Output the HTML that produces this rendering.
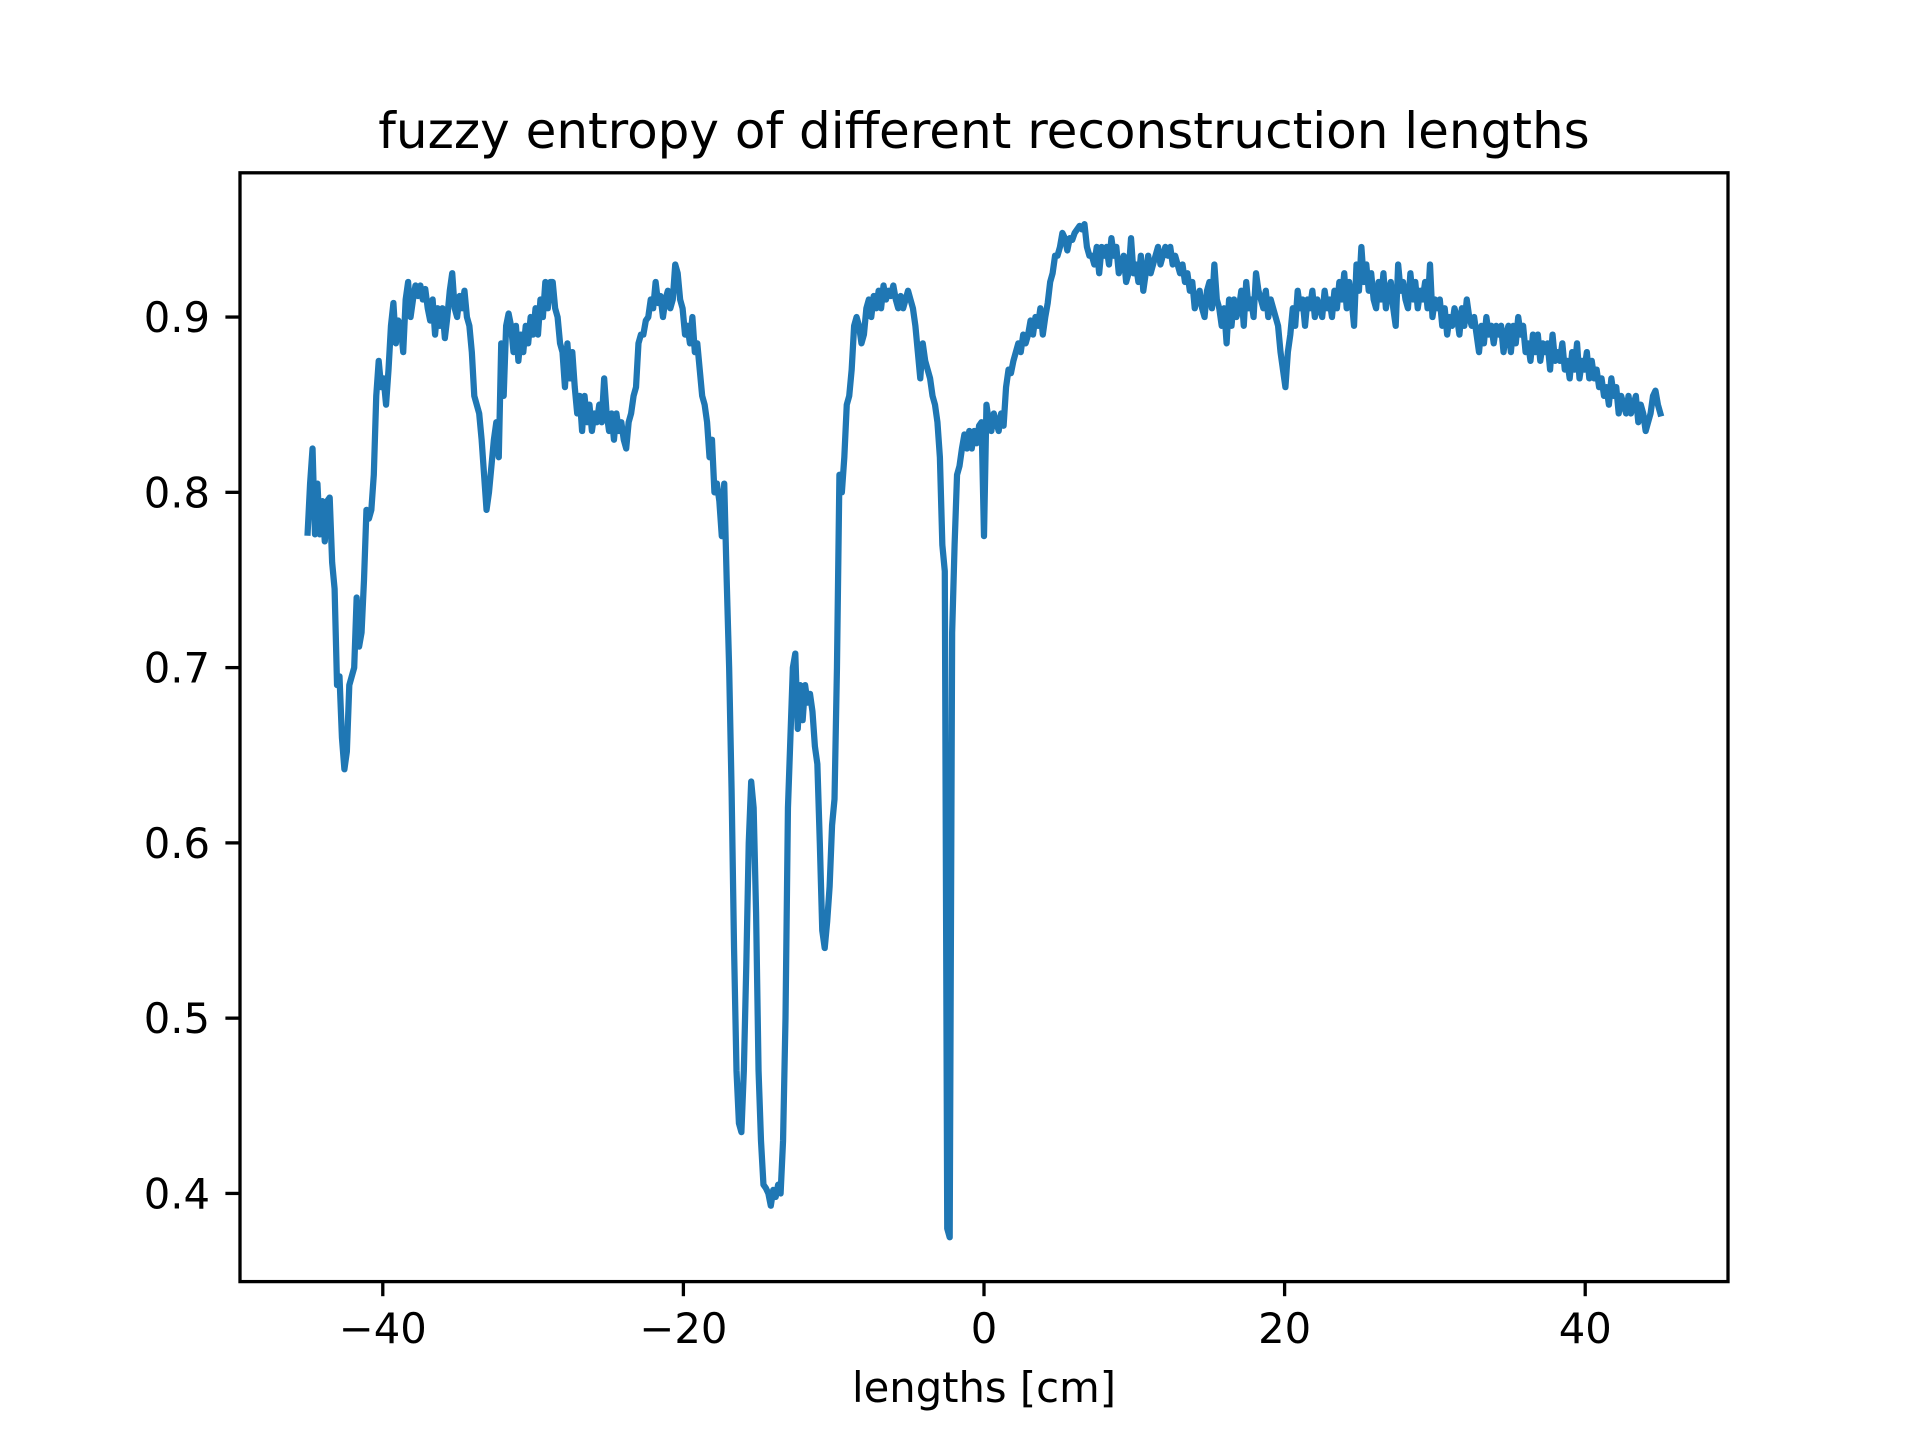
<!DOCTYPE html>
<html><head><meta charset="utf-8"><style>
html,body{margin:0;padding:0;background:#fff;}
svg{display:block;font-family:"DejaVu Sans","Liberation Sans",sans-serif;}
</style></head><body>
<svg id="chart" width="1920" height="1440" viewBox="0 0 1920 1440" xmlns="http://www.w3.org/2000/svg">
<rect x="0" y="0" width="1920" height="1440" fill="#fff"/>
<text x="984" y="148" font-size="50" text-anchor="middle" fill="#000">fuzzy entropy of different reconstruction lengths</text>
<g id="xticks"></g>
<g id="yticks"></g>
<path id="series" fill="none" stroke="#1f77b4" stroke-width="6.25" stroke-linejoin="round" stroke-linecap="square"/>
<rect x="240" y="172.8" width="1488" height="1108.8" fill="none" stroke="#000" stroke-width="3.3"/>
<text x="984" y="1402" font-size="41.7" text-anchor="middle" fill="#000">lengths [cm]</text>
</svg>
<script>
const xStart = -45;
const xEnd = 45;
const xTickValues = [-40, -20, 0, 20, 40];
const xTickLabels = ["\u221240", "\u221220", "0", "20", "40"];
const yTickValues = [0.4, 0.5, 0.6, 0.7, 0.8, 0.9];
const yTickLabels = ["0.4", "0.5", "0.6", "0.7", "0.8", "0.9"];
const entropyValues = [
.777,.805,.825,.776,.805,.776,.795,.772,.795,.797,.76,.745,.69,.695,.66,.642,.652,.69,.695,.70,.74,.712,.72,.75,.79,.785,.79,.81,.855,.875,.86,.865,.85,.87,.895,.908,.885,.898,.895,.88,.91,.92,.90,.91,.918,.912,.918,.91,.916,.905,.898,.91,.89,.905,.895,.905,.888,.90,.915,.925,.905,.90,.912,.905,.915,.90,.895,.88,.855,.85,.845,.83,.81,.79,.80,.815,.83,.84,.82,.885,.855,.895,.902,.895,.88,.895,.875,.89,.88,.895,.885,.90,.89,.905,.89,.91,.90,.92,.905,.92,.92,.905,.90,.885,.88,.86,.885,.865,.88,.86,.845,.855,.835,.855,.84,.85,.835,.845,.84,.85,.84,.865,.845,.835,.845,.83,.845,.835,.84,.83,.825,.84,.845,.855,.86,.885,.89,.89,.898,.90,.91,.905,.92,.908,.912,.90,.91,.915,.905,.91,.93,.925,.91,.905,.89,.895,.885,.90,.88,.885,.87,.855,.85,.84,.82,.83,.80,.805,.795,.775,.805,.75,.70,.63,.54,.47,.44,.435,.47,.53,.60,.635,.62,.56,.47,.43,.405,.403,.40,.393,.402,.398,.405,.40,.43,.50,.62,.66,.70,.708,.665,.69,.67,.69,.68,.685,.675,.655,.645,.60,.55,.54,.555,.575,.61,.625,.70,.81,.80,.82,.85,.855,.87,.895,.90,.895,.885,.89,.905,.91,.90,.912,.905,.915,.905,.918,.91,.915,.912,.918,.91,.905,.912,.905,.91,.915,.91,.905,.895,.88,.865,.885,.875,.87,.865,.855,.85,.84,.82,.77,.755,.38,.375,.72,.77,.81,.815,.825,.833,.825,.835,.825,.835,.828,.838,.84,.775,.85,.84,.835,.845,.84,.835,.845,.838,.86,.87,.868,.875,.88,.885,.88,.89,.885,.89,.898,.89,.90,.895,.905,.89,.90,.908,.92,.925,.935,.935,.94,.948,.945,.938,.945,.944,.948,.95,.952,.95,.953,.94,.935,.935,.93,.94,.925,.94,.935,.94,.93,.945,.935,.94,.925,.93,.935,.92,.925,.945,.925,.93,.92,.935,.915,.925,.935,.925,.93,.935,.94,.93,.935,.94,.935,.94,.93,.935,.93,.925,.93,.92,.925,.915,.92,.905,.91,.915,.905,.90,.915,.92,.905,.93,.91,.905,.895,.905,.885,.91,.895,.91,.90,.905,.915,.895,.92,.905,.91,.90,.925,.915,.91,.905,.915,.90,.91,.905,.90,.895,.88,.87,.86,.88,.89,.905,.895,.915,.905,.91,.895,.91,.905,.915,.90,.91,.905,.90,.915,.905,.91,.90,.915,.905,.92,.91,.925,.905,.92,.91,.895,.93,.915,.94,.92,.93,.915,.925,.91,.905,.92,.91,.925,.905,.915,.92,.905,.895,.93,.915,.92,.91,.905,.925,.91,.92,.905,.915,.91,.92,.905,.93,.90,.91,.905,.91,.895,.905,.89,.90,.895,.905,.90,.89,.905,.895,.91,.90,.895,.90,.89,.88,.895,.885,.90,.89,.895,.885,.895,.89,.895,.88,.89,.895,.88,.895,.885,.90,.89,.895,.88,.885,.875,.89,.88,.89,.875,.885,.88,.885,.87,.89,.875,.88,.875,.885,.87,.875,.865,.88,.87,.885,.865,.875,.87,.88,.865,.875,.865,.87,.86,.865,.855,.86,.85,.865,.855,.86,.845,.855,.85,.845,.855,.845,.85,.855,.84,.85,.845,.835,.84,.845,.855,.858,.85,.845
];
const NS = "http://www.w3.org/2000/svg";
const plotL = 240, plotR = 1728, plotT = 172.8, plotB = 1281.6;
const xMin = -49.5, xMax = 49.5, yMin = 0.3497, yMax = 0.9823;
function xScale(v){ return plotL + (v - xMin) / (xMax - xMin) * (plotR - plotL); }
function yScale(v){ return plotB - (v - yMin) / (yMax - yMin) * (plotB - plotT); }

const n = entropyValues.length;
let d = "";
for (let i = 0; i < n; i++) {
  const xv = xStart + (xEnd - xStart) * i / (n - 1);
  d += (i ? "L" : "M") + xScale(xv).toFixed(2) + "," + yScale(entropyValues[i]).toFixed(2);
}
document.getElementById("series").setAttribute("d", d);

const xg = document.getElementById("xticks");
xTickValues.forEach((v, i) => {
  const x = xScale(v);
  const t = document.createElementNS(NS, "line");
  
  
  t.setAttribute("x1", x); t.setAttribute("x2", x);
  t.setAttribute("y1", plotB); t.setAttribute("y2", plotB + 14.6);
  t.setAttribute("stroke", "#000"); t.setAttribute("stroke-width", "3.3");
  xg.appendChild(t);
  const lb = document.createElementNS(NS, "text");
  
  
  lb.setAttribute("x", x); lb.setAttribute("y", 1343);
  lb.setAttribute("font-size", "41.7"); lb.setAttribute("text-anchor", "middle");
  lb.textContent = xTickLabels[i];
  xg.appendChild(lb);
});
const yg = document.getElementById("yticks");
yTickValues.forEach((v, i) => {
  const y = yScale(v);
  const t = document.createElementNS(NS, "line");
  
  
  t.setAttribute("x1", plotL - 14.6); t.setAttribute("x2", plotL);
  t.setAttribute("y1", y); t.setAttribute("y2", y);
  t.setAttribute("stroke", "#000"); t.setAttribute("stroke-width", "3.3");
  yg.appendChild(t);
  const lb = document.createElementNS(NS, "text");
  
  
  lb.setAttribute("x", 210); lb.setAttribute("y", y + 15);
  lb.setAttribute("font-size", "41.7"); lb.setAttribute("text-anchor", "end");
  lb.textContent = yTickLabels[i];
  yg.appendChild(lb);
});
</script>
</body></html>
